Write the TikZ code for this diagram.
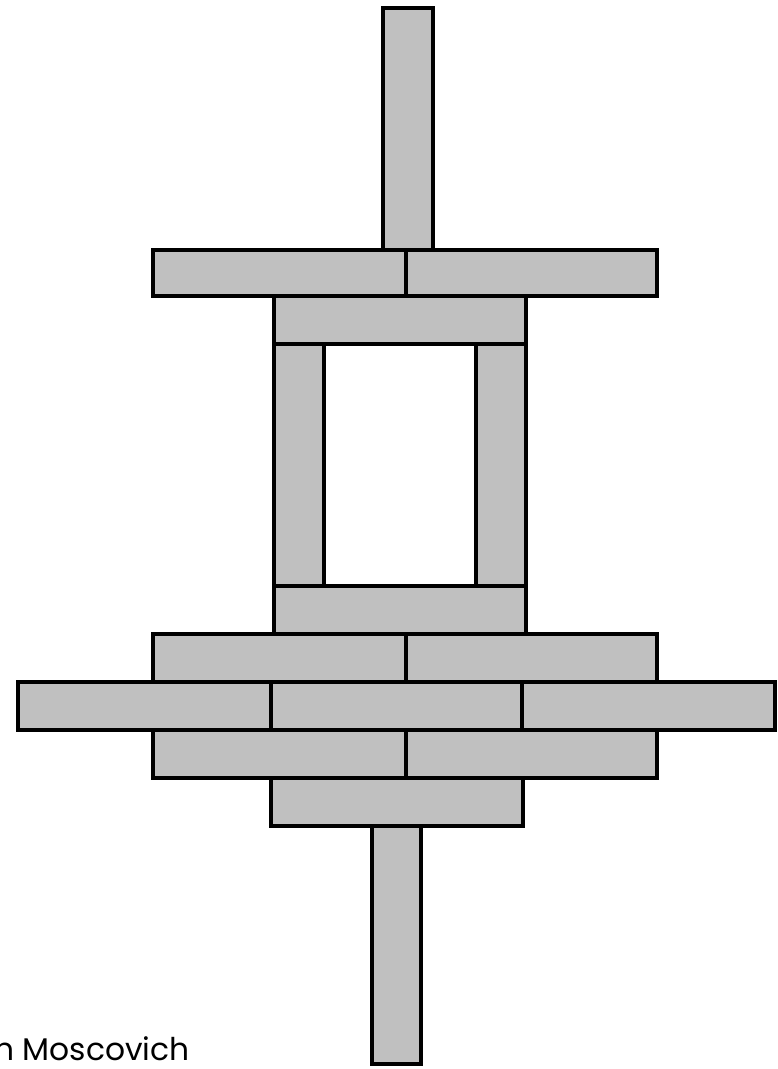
\documentclass[tikz,border=0pt]{standalone}
\usepackage{fontspec}
\setmainfont{Poppins}
\usepackage{xcolor}
\definecolor{brickGray}{RGB}{192,192,192}
\tikzset{
    brick/.style={draw=black, fill=brickGray, line width=3.4pt, line join=miter},
    credit/.style={font=\fontsize{23.5}{26}\selectfont, inner sep=0pt, anchor=base west}
}

\begin{document}
\begin{tikzpicture}[x=0.75pt, y=-0.75pt]
\useasboundingbox (0,0) rectangle (777,1069);

% top post and cross bar
\draw[brick] (383,8) rectangle (433,250);
\foreach \xa/\xb in {153/406, 406/657}
    \draw[brick] (\xa,250) rectangle (\xb,296);

% frame round the window
\draw[brick] (274,296) rectangle (526,344);
\draw[brick] (274,344) rectangle (324,586);
\draw[brick] (476,344) rectangle (526,586);
\draw[brick] (274,586) rectangle (526,634);

% lower courses
\foreach \xa/\xb in {153/406, 406/657} {
    \draw[brick] (\xa,634) rectangle (\xb,682);
    \draw[brick] (\xa,730) rectangle (\xb,778);
}
\foreach \xa/\xb in {18/271, 271/522, 522/775}
    \draw[brick] (\xa,682) rectangle (\xb,730);
\draw[brick] (271,778) rectangle (523,826);

% bottom post
\draw[brick] (372,826) rectangle (421,1064);

\node[credit] (author) at (-6,1060) {n Moscovich};

\end{tikzpicture}
\end{document}
